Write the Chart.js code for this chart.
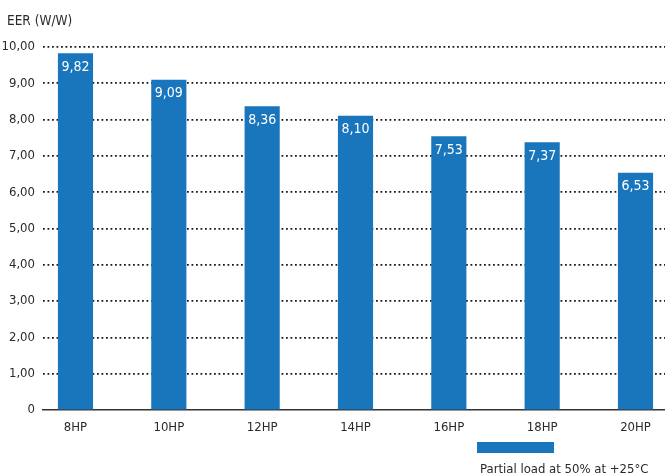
<!DOCTYPE html>
<html>
<head>
<meta charset="utf-8">
<script src="https://cdn.jsdelivr.net/npm/chart.js@4/dist/chart.umd.min.js"></script>
<style>
  html, body { margin: 0; padding: 0; background: #fff; }
  #wrap { position: relative; width: 665px; height: 475px; overflow: hidden;
          font-family: 'Liberation Sans Narrow', 'DejaVu Sans Condensed', sans-serif; color: #2a2a2a; }
  canvas { position: absolute; left: 0; top: 0; }
  #title { position: absolute; left: 7px; top: 11px; font-size: 13.5px; line-height: 18px; white-space: nowrap; }
  #legBox { position: absolute; left: 477px; top: 442px; width: 77px; height: 11px; background: #1a76bc; }
  #legText { position: absolute; left: 480px; top: 460px; font-size: 13px; line-height: 18px; white-space: nowrap; }
</style>
</head>
<body>
<div id="wrap">
  <canvas id="c" width="665" height="475"></canvas>
  <div id="title">EER (W/W)</div>
  <div id="legBox"></div>
  <div id="legText">Partial load at 50% at +25°C</div>
</div>
<script>
const categories = ['8HP', '10HP', '12HP', '14HP', '16HP', '18HP', '20HP'];
const eerValues = [9.82, 9.09, 8.36, 8.10, 7.53, 7.37, 6.53];
const yTickValues = [0, 1, 2, 3, 4, 5, 6, 7, 8, 9, 10];
const seriesName = 'Partial load at 50% at +25°C';

const FONT = "'Liberation Sans Narrow', 'DejaVu Sans Condensed', sans-serif";
const BAR = '#1a76bc';
const fmt = v => v === 0 ? '0' : v.toFixed(2).replace('.', ',');

const barLabels = {
  id: 'barLabels',
  afterDraw(chart) {
    const ctx = chart.ctx;
    const meta = chart.getDatasetMeta(0);
    ctx.save();
    ctx.fillStyle = '#ffffff';
    ctx.font = '14px ' + FONT;
    ctx.textAlign = 'center';
    ctx.textBaseline = 'middle';
    meta.data.forEach((el, i) => {
      ctx.fillText(fmt(eerValues[i]), el.x, el.y + 13.5);
    });
    ctx.restore();
  }
};

new Chart(document.getElementById('c'), {
  type: 'bar',
  data: {
    datasets: [{
      label: seriesName,
      data: categories.map((c, i) => ({ x: i, y: eerValues[i] })),
      backgroundColor: BAR,
      borderWidth: 0,
      barThickness: 34.5
    }]
  },
  options: {
    responsive: false,
    animation: false,
    layout: { padding: { top: 47, right: 0, bottom: 35, left: 0 } },
    plugins: { legend: { display: false }, title: { display: false }, tooltip: { enabled: false } },
    scales: {
      x: {
        type: 'linear',
        offset: false,
        min: -0.348,
        max: 6.316,
        z: 1,
        grid: { display: false, drawTicks: false },
        border: { display: true, color: '#333', width: 1.4 },
        afterBuildTicks: s => { s.ticks = categories.map((c, i) => ({ value: i })); },
        afterFit: s => { s.height = 30; },
        ticks: {
          autoSkip: false, maxRotation: 0, padding: 10,
          color: '#2a2a2a', font: { family: FONT, size: 13 },
          callback: v => categories[v]
        }
      },
      y: {
        min: 0, max: 10,
        z: 1,
        afterBuildTicks: s => { s.ticks = yTickValues.map(v => ({ value: v })); },
        afterFit: s => { s.width = 43; },
        grid: {
          drawTicks: false,
          color: c => c.tick && c.tick.value === 0 ? 'rgba(0,0,0,0)' : '#1a1a1a',
          lineWidth: 1.8
        },
        border: { display: false, dash: [1.8, 2.7] },
        ticks: {
          padding: 8, color: '#2a2a2a', font: { family: FONT, size: 13 },
          callback: v => fmt(v)
        }
      }
    }
  },
  plugins: [barLabels]
});
</script>
</body>
</html>
